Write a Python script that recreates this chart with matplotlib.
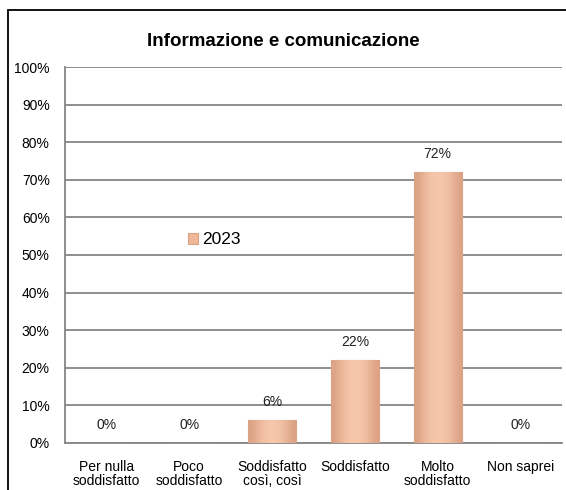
import numpy as np
import matplotlib.pyplot as plt
from matplotlib.patches import Rectangle

categories = ["Per nulla\nsoddisfatto", "Poco\nsoddisfatto", "Soddisfatto\ncosì, così",
              "Soddisfatto", "Molto\nsoddisfatto", "Non saprei"]
values = [0, 0, 6, 22, 72, 0]
series_name = "2023"

plt.rcParams["font.family"] = ["Liberation Sans", "DejaVu Sans"]

fig = plt.figure(figsize=(5.66, 4.90), dpi=100)
ax = fig.add_axes([65 / 566, 1 - 443 / 490, (562 - 65) / 566, (443 - 67) / 490])

x = np.arange(len(categories))
bars = ax.bar(x, values, width=0.58, color="#EFB899", edgecolor="#D9A283",
              linewidth=0.8, label=series_name, zorder=3)

# soft gradient across each bar
cmap = plt.matplotlib.colors.LinearSegmentedColormap.from_list("p", ["#DCA184", "#F6C7AB"])
for b in bars:
    h = b.get_height()
    if h <= 0:
        continue
    x0, w = b.get_x(), b.get_width()
    grad = np.array([[0.0, 0.7, 1.0, 1.0, 0.7, 0.0]])
    im = ax.imshow(grad, cmap=cmap, aspect="auto", extent=(x0, x0 + w, 0, h),
                   interpolation="bicubic", zorder=3.5)
    im.set_clip_path(b)

for xi, v in zip(x, values):
    ax.text(xi, v + 3.0, f"{v}%", ha="center", va="bottom", fontsize=10, color="#222222", zorder=5)

ax.set_xlim(-0.5, len(categories) - 0.5)
ax.set_ylim(0, 100)
ax.set_yticks(range(0, 101, 10))
ax.set_yticklabels([f"{t}%" for t in range(0, 101, 10)], fontsize=10)
ax.set_xticks(x)
ax.set_xticklabels(categories, fontsize=10, linespacing=1.05)
ax.tick_params(axis="y", length=0, pad=11)
ax.tick_params(axis="x", length=0, pad=12)
ax.yaxis.grid(True, color="#868686", linewidth=1.3, zorder=0)
for s in ["top", "right"]:
    ax.spines[s].set_visible(False)
ax.spines["left"].set_color("#868686")
ax.spines["bottom"].set_color("#868686")
ax.spines["left"].set_linewidth(1.3)
ax.spines["bottom"].set_linewidth(1.3)

leg = ax.legend(loc="center", bbox_to_anchor=(0.30, 0.54), frameon=False, fontsize=12.5,
                handlelength=0.6, handleheight=0.6, handletextpad=0.2)

fig.text(0.5, 1 - 42 / 490, "Informazione e comunicazione", ha="center", va="center",
         fontsize=13.5, fontweight="bold")

fig.patches.append(Rectangle((8 / 566, -0.1), 1.2, 1 - 10 / 490 + 0.1, transform=fig.transFigure,
                             fill=False, edgecolor="black", linewidth=1.3))

fig.savefig("out.png", dpi=100)
